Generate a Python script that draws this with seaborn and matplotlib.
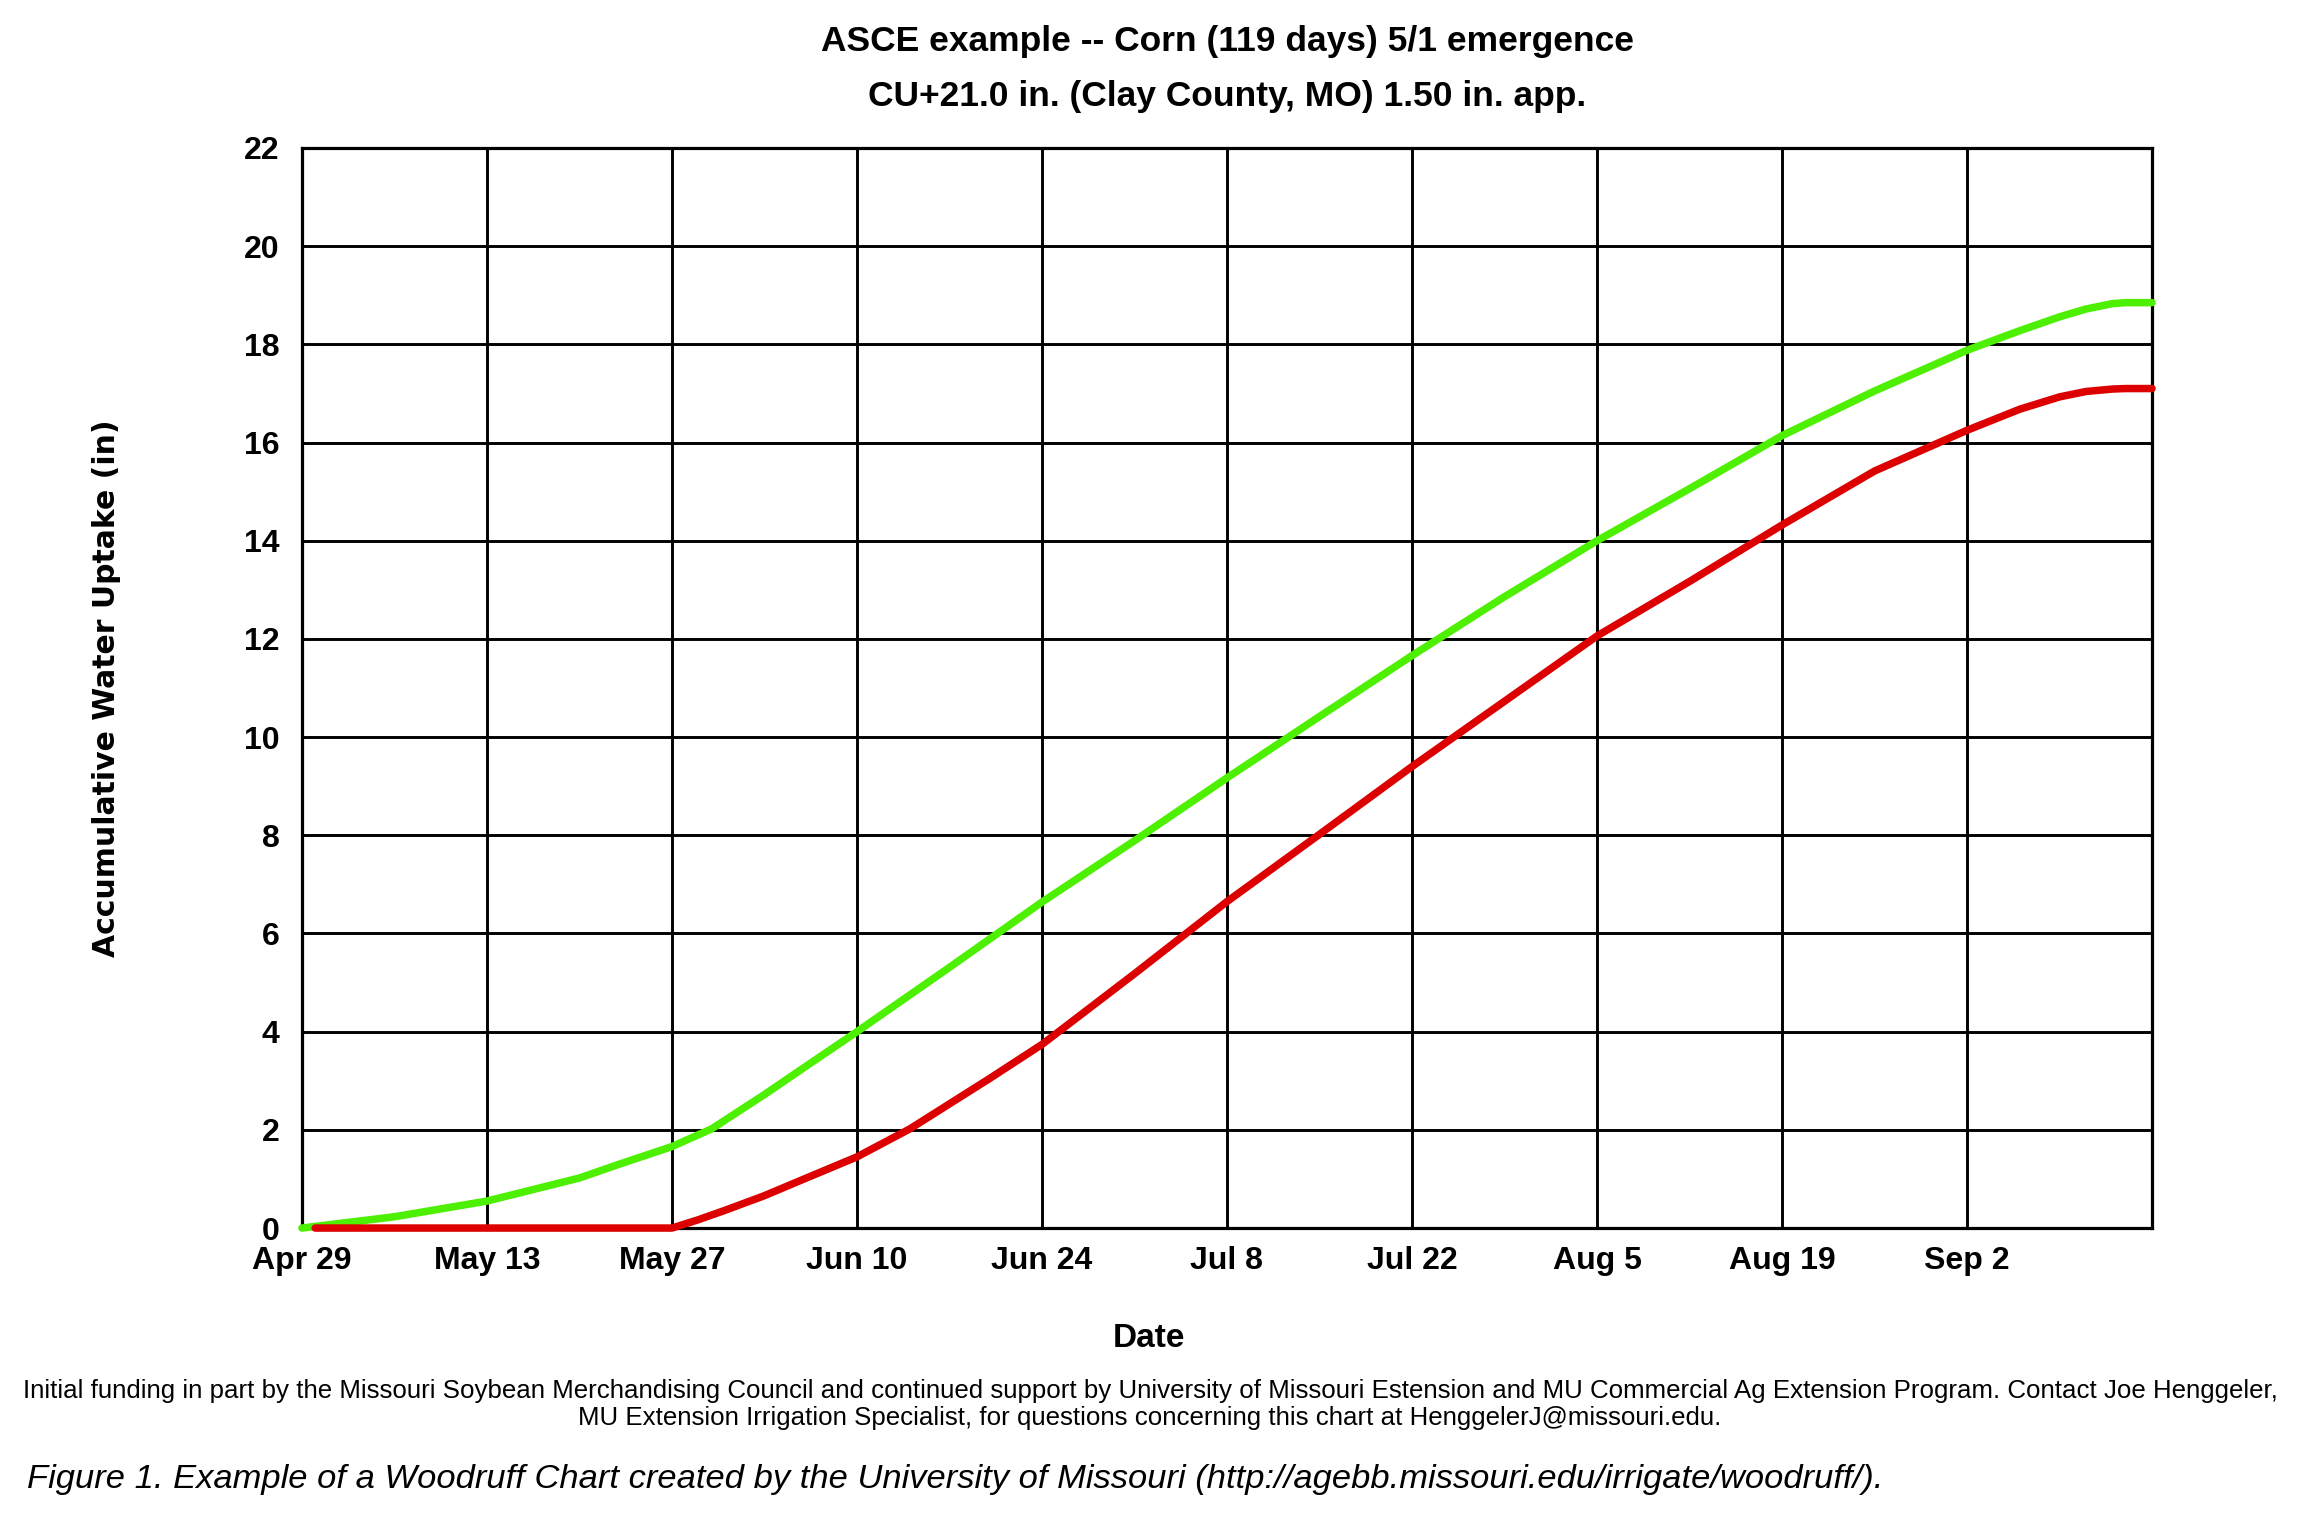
import pandas as pd
import seaborn as sns
import matplotlib.pyplot as plt

# days after Apr 29 and accumulated water uptake (in)
start = pd.Timestamp('2013-04-29')
green_days = [0, 7, 14, 21, 24, 28, 31, 33, 35, 38, 42, 49, 56, 63, 70, 77, 84,
              91, 98, 105, 112, 119, 126, 130, 133, 135, 137, 138, 140]
green_vals = [0, 0.23, 0.55, 1.02, 1.3, 1.66, 2.02, 2.37, 2.72, 3.27, 4.0,
              5.31, 6.64, 7.89, 9.17, 10.42, 11.66, 12.86, 14.0, 15.06, 16.14,
              17.05, 17.88, 18.28, 18.56, 18.72, 18.83, 18.85, 18.85]
red_days = [1, 28, 30, 32, 35, 38, 42, 46, 49, 52, 56, 63, 70, 77, 84, 91, 98,
            105, 112, 119, 126, 130, 133, 135, 137, 138, 140]
red_vals = [0, 0, 0.17, 0.36, 0.66, 1.0, 1.45, 2.02, 2.53, 3.04, 3.74, 5.18,
            6.65, 8.02, 9.4, 10.73, 12.06, 13.17, 14.32, 15.42, 16.25, 16.68,
            16.93, 17.04, 17.09, 17.1, 17.1]
tick_labels = ['Apr 29', 'May 13', 'May 27', 'Jun 10', 'Jun 24', 'Jul 8',
               'Jul 22', 'Aug 5', 'Aug 19', 'Sep 2', '']
y_ticks = list(range(0, 23, 2))

title1 = 'ASCE example -- Corn (119 days) 5/1 emergence'
title2 = 'CU+21.0 in. (Clay County, MO) 1.50 in. app.'
footer1 = ('Initial funding in part by the Missouri Soybean Merchandising Council and '
           'continued support by University of Missouri Estension and MU Commercial Ag '
           'Extension Program. Contact Joe Henggeler,')
footer2 = ('MU Extension Irrigation Specialist, for questions concerning this chart '
           'at HenggelerJ@missouri.edu.')
caption = ('Figure 1. Example of a Woodruff Chart created by the University of Missouri '
           '(http://agebb.missouri.edu/irrigate/woodruff/).')

green = pd.DataFrame({'date': start + pd.to_timedelta(green_days, unit='D'),
                      'uptake': green_vals})
red = pd.DataFrame({'date': start + pd.to_timedelta(red_days, unit='D'),
                    'uptake': red_vals})

sns.set_style('white')
plt.rcParams['font.family'] = ['Liberation Sans', 'DejaVu Sans']
plt.rcParams['text.color'] = 'black'
plt.rcParams['axes.labelcolor'] = 'black'

fig = plt.figure(figsize=(23.21, 15.21), dpi=100)
ax = fig.add_axes([0.1301, 0.1926, 0.7971, 0.7101])

sns.lineplot(data=green, x='date', y='uptake', color='#4CF000', linewidth=5.4,
             clip_on=False, zorder=5, ax=ax)
sns.lineplot(data=red, x='date', y='uptake', color='#DC0000', linewidth=5.4,
             clip_on=False, zorder=6, ax=ax)

x_ticks = pd.date_range(start, periods=len(tick_labels), freq='14D')
ax.set_xlim(x_ticks[0], x_ticks[-1])
ax.set_ylim(0, 22)
ax.set_xticks(x_ticks)
ax.set_xticklabels(tick_labels)
ax.set_yticks(y_ticks)
ax.set_yticklabels([str(v) for v in y_ticks])

ax.grid(True, color='black', linewidth=2.1)
ax.set_axisbelow(True)
for s in ax.spines.values():
    s.set_color('black')
    s.set_linewidth(2.3)
ax.tick_params(axis='both', length=0, labelsize=23, colors='black')
ax.tick_params(axis='x', pad=13)
ax.tick_params(axis='y', pad=16)
for lab in ax.get_xticklabels() + ax.get_yticklabels():
    lab.set_fontweight('bold')

ax.set_xlabel('Date', fontsize=24, fontweight='bold', va='baseline')
ax.xaxis.set_label_coords(0.458, -0.110)
ax.set_ylabel('Accumulative Water Uptake (in)', fontsize=21.5, fontweight='bold',
              family='DejaVu Sans', va='center')
ax.yaxis.set_label_coords(-0.1054, 0.5)

fig.text(0.5287, 0.9667, title1, ha='center', va='baseline', fontsize=25.5,
         fontweight='bold')
fig.text(0.5287, 0.9303, title2, ha='center', va='baseline', fontsize=25.5,
         fontweight='bold')
fig.text(0.4955, 0.0806, footer1, ha='center', va='baseline', fontsize=18.6)
fig.text(0.4955, 0.0631, footer2, ha='center', va='baseline', fontsize=18.6)
fig.text(0.0116, 0.0217, caption, ha='left', va='baseline', fontsize=24.8,
         style='italic')

fig.savefig('out.png', dpi=100, facecolor='white')
